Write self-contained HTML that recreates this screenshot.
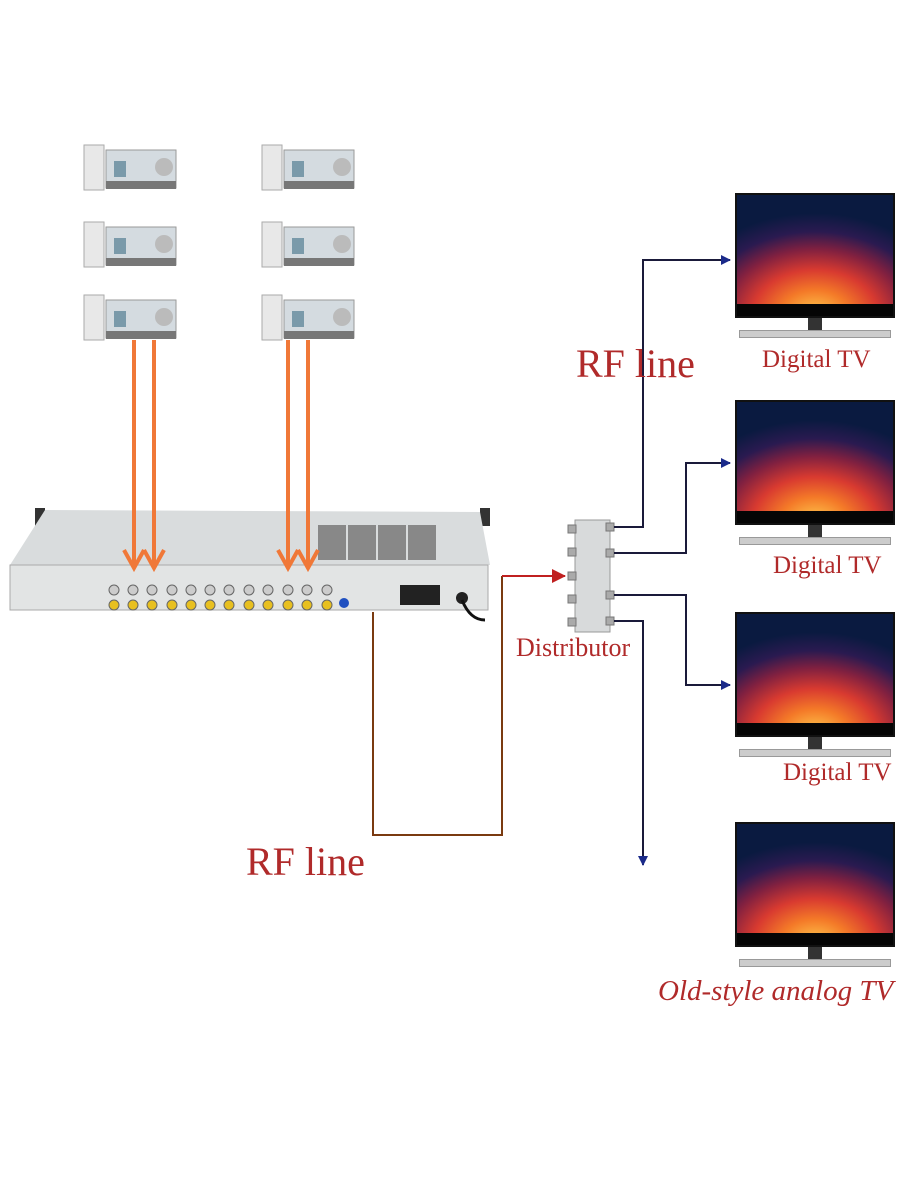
<!DOCTYPE html>
<html><head><style>
body{margin:0;background:#fff;}
.w{position:relative;width:900px;height:1200px;overflow:hidden;}
.lbl{position:absolute;color:#b02a2a;font-family:"Liberation Serif",serif;white-space:nowrap;}
.tv{position:absolute;left:735px;width:160px;}
.scr{height:125px;background:radial-gradient(ellipse 90% 85% at 50% 100%,#ffd050 0%,#f47a28 25%,#d83a30 45%,#802040 65%,#2a1a50 82%,#0a1a40 100%);border:2px solid #111;box-sizing:border-box;position:relative;}
.scr:after{content:"";position:absolute;left:0;right:0;bottom:0;height:12px;background:#050505;}
.st{width:14px;height:12px;background:#333;margin:0 auto;}
.base{width:150px;height:6px;background:#ccc;margin:0 auto;border:1px solid #999;}
</style></head><body><div class="w">
<svg width="900" height="1200" style="position:absolute;left:0;top:0">
<defs>
<marker id="bl" markerWidth="10" markerHeight="10" refX="9" refY="5" orient="auto" markerUnits="userSpaceOnUse"><path d="M0,0 L10,5 L0,10z" fill="#1a2a8a"/></marker>
<marker id="rd" markerWidth="14" markerHeight="14" refX="13" refY="7" orient="auto" markerUnits="userSpaceOnUse"><path d="M0,0 L14,7 L0,14z" fill="#c02020"/></marker>
<g id="b">
<rect x="0" y="0" width="20" height="45" fill="#e8e8e8" stroke="#aaa"/>
<rect x="22" y="5" width="70" height="38" fill="#d4dbe0" stroke="#999"/>
<rect x="22" y="36" width="70" height="8" fill="#777"/>
<circle cx="80" cy="22" r="9" fill="#bbb"/>
<rect x="30" y="16" width="12" height="16" fill="#7a9aaa"/>
</g>
<g id="j"><circle cx="0" cy="590" r="5" fill="#ccc" stroke="#666"/><circle cx="0" cy="605" r="5" fill="#e8c020" stroke="#666"/></g>
</defs>
<use href="#b" x="84" y="145"/><use href="#b" x="84" y="222"/><use href="#b" x="84" y="295"/>
<use href="#b" x="262" y="145"/><use href="#b" x="262" y="222"/><use href="#b" x="262" y="295"/>
<rect x="35" y="508" width="10" height="18" fill="#333"/><rect x="480" y="508" width="10" height="18" fill="#333"/>
<polygon points="45,510 480,512 490,565 10,565" fill="#d9dcdd"/>
<rect x="10" y="565" width="478" height="45" fill="#e2e4e4" stroke="#aaa"/>
<g fill="#888">
<rect x="318" y="525" width="28" height="35"/><rect x="348" y="525" width="28" height="35"/><rect x="378" y="525" width="28" height="35"/><rect x="408" y="525" width="28" height="35"/>
</g>
<use href="#j" x="114"/><use href="#j" x="133"/><use href="#j" x="152"/><use href="#j" x="172"/><use href="#j" x="191"/><use href="#j" x="210"/><use href="#j" x="229"/><use href="#j" x="249"/><use href="#j" x="268"/><use href="#j" x="288"/><use href="#j" x="307"/><use href="#j" x="327"/>
<circle cx="344" cy="603" r="5" fill="#2050c0"/>
<rect x="400" y="585" width="40" height="20" fill="#222"/>
<circle cx="462" cy="598" r="6" fill="#222"/>
<path d="M462,600 Q470,620 485,620" stroke="#111" stroke-width="3" fill="none"/>
<g stroke="#f07838" stroke-width="4" fill="none">
<path d="M134,340 V568 M124,550 L134,568 L144,550"/>
<path d="M154,340 V568 M144,550 L154,568 L164,550"/>
<path d="M288,340 V568 M278,550 L288,568 L298,550"/>
<path d="M308,340 V568 M298,550 L308,568 L318,550"/>
</g>
<polyline points="373,612 373,835 502,835 502,576" stroke="#7a3a10" stroke-width="2" fill="none"/>
<polyline points="502,576 565,576" stroke="#c02020" stroke-width="2" fill="none" marker-end="url(#rd)"/>
<rect x="575" y="520" width="35" height="112" fill="#d8dadb" stroke="#999"/>
<g fill="#aaa" stroke="#777"><rect x="568" y="525" width="8" height="8"/><rect x="568" y="548" width="8" height="8"/><rect x="568" y="572" width="8" height="8"/><rect x="568" y="595" width="8" height="8"/><rect x="568" y="618" width="8" height="8"/>
<rect x="606" y="523" width="8" height="8"/><rect x="606" y="549" width="8" height="8"/><rect x="606" y="591" width="8" height="8"/><rect x="606" y="617" width="8" height="8"/></g>
<g stroke="#1a1a3a" stroke-width="2" fill="none">
<polyline points="614,527 643,527 643,260 730,260" marker-end="url(#bl)"/>
<polyline points="614,553 686,553 686,463 730,463" marker-end="url(#bl)"/>
<polyline points="614,595 686,595 686,685 730,685" marker-end="url(#bl)"/>
<polyline points="614,621 643,621 643,865" marker-end="url(#bl)"/>
</g>
</svg>
<div class="tv" style="top:193px"><div class="scr"></div><div class="st"></div><div class="base"></div></div>
<div class="tv" style="top:400px"><div class="scr"></div><div class="st"></div><div class="base"></div></div>
<div class="tv" style="top:612px"><div class="scr"></div><div class="st"></div><div class="base"></div></div>
<div class="tv" style="top:822px"><div class="scr"></div><div class="st"></div><div class="base"></div></div>
<div class="lbl" style="left:576px;top:340px;font-size:40px">RF line</div>
<div class="lbl" style="left:246px;top:838px;font-size:40px">RF line</div>
<div class="lbl" style="left:762px;top:346px;font-size:25px">Digital TV</div>
<div class="lbl" style="left:773px;top:552px;font-size:25px">Digital TV</div>
<div class="lbl" style="left:783px;top:759px;font-size:25px">Digital TV</div>
<div class="lbl" style="left:516px;top:633px;font-size:26px">Distributor</div>
<div class="lbl" style="left:658px;top:975px;font-size:29px;font-style:italic">Old-style analog TV</div>
</div></body></html>
